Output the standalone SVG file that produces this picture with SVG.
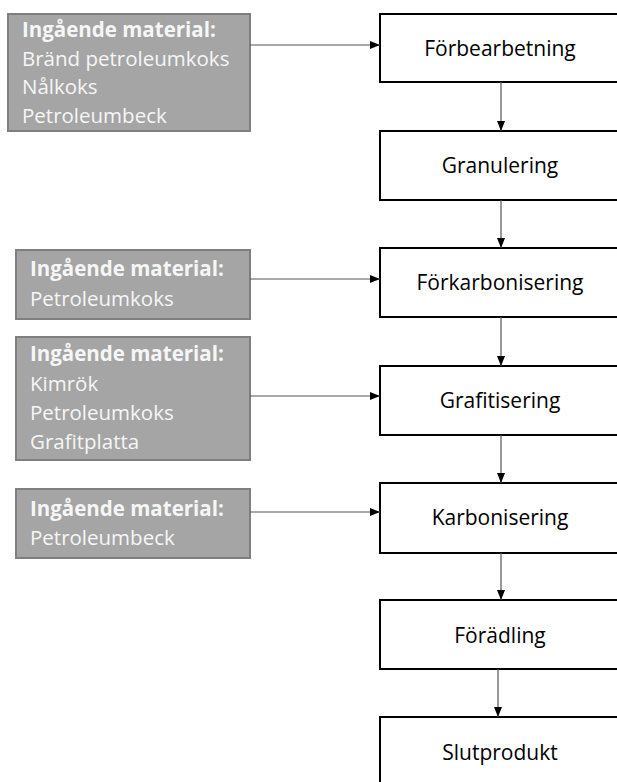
<svg xmlns="http://www.w3.org/2000/svg" width="617" height="782" viewBox="0 0 617 782">
<defs>
<style>
.in rect{fill:#A5A5A5;stroke:#7F7F7F;stroke-width:2}
.in text{font-family:"Open Sans","Noto Sans",sans-serif;font-size:20.5px;fill:#F6F6F6}
.in .h{font-weight:bold}
.st rect{fill:#FFFFFF;stroke:#000000;stroke-width:2}
.st text{font-family:"Open Sans","Noto Sans",sans-serif;font-size:21px;fill:#000000;text-anchor:middle}
.cn line{stroke:#555555;stroke-width:1.2}
</style>
<marker id="ah" markerWidth="10" markerHeight="8" refX="10" refY="4" orient="auto" markerUnits="userSpaceOnUse">
<path d="M0,0 L10,4 L0,8 Z" fill="#000000"/>
</marker>
</defs>
<rect width="617" height="782" fill="#FFFFFF"/>
<g id="in1" class="in">
<rect x="8" y="14" width="242" height="117"/>
<text x="22" y="37" class="h">Ingående material:</text>
<text x="22" y="66">Bränd petroleumkoks</text>
<text x="22" y="94">Nålkoks</text>
<text x="22" y="123">Petroleumbeck</text>
</g>
<g id="in2" class="in">
<rect x="16" y="250" width="234" height="69"/>
<text x="30" y="276" class="h">Ingående material:</text>
<text x="30" y="306">Petroleumkoks</text>
</g>
<g id="in3" class="in">
<rect x="16" y="337" width="234" height="123"/>
<text x="30" y="361" class="h">Ingående material:</text>
<text x="30" y="391">Kimrök</text>
<text x="30" y="420">Petroleumkoks</text>
<text x="30" y="449">Grafitplatta</text>
</g>
<g id="in4" class="in">
<rect x="16" y="489" width="234" height="69"/>
<text x="30" y="516" class="h">Ingående material:</text>
<text x="30" y="545">Petroleumbeck</text>
</g>
<g id="s1" class="st"><rect x="380" y="14" width="250" height="68"/><text x="500" y="56">Förbearbetning</text></g>
<g id="s2" class="st"><rect x="380" y="131" width="250" height="69"/><text x="500" y="173">Granulering</text></g>
<g id="s3" class="st"><rect x="380" y="248" width="250" height="69"/><text x="500" y="290">Förkarbonisering</text></g>
<g id="s4" class="st"><rect x="380" y="366" width="250" height="69"/><text x="500" y="408">Grafitisering</text></g>
<g id="s5" class="st"><rect x="380" y="483" width="250" height="70"/><text x="500" y="525">Karbonisering</text></g>
<g id="s6" class="st"><rect x="380" y="600" width="250" height="69"/><text x="500" y="643">Förädling</text></g>
<g id="s7" class="st"><rect x="380" y="717" width="250" height="70"/><text x="500" y="760">Slutprodukt</text></g>
<g id="connectors" class="cn">
<line x1="250" y1="45" x2="380" y2="45" marker-end="url(#ah)"/>
<line x1="250" y1="279" x2="380" y2="279" marker-end="url(#ah)"/>
<line x1="250" y1="396" x2="380" y2="396" marker-end="url(#ah)"/>
<line x1="250" y1="512" x2="380" y2="512" marker-end="url(#ah)"/>
<line x1="501" y1="82" x2="501" y2="131" marker-end="url(#ah)"/>
<line x1="501" y1="200" x2="501" y2="248" marker-end="url(#ah)"/>
<line x1="501" y1="317" x2="501" y2="366" marker-end="url(#ah)"/>
<line x1="501" y1="435" x2="501" y2="483" marker-end="url(#ah)"/>
<line x1="501" y1="553" x2="501" y2="600" marker-end="url(#ah)"/>
<line x1="498" y1="669" x2="498" y2="717" marker-end="url(#ah)"/>
</g>
</svg>
